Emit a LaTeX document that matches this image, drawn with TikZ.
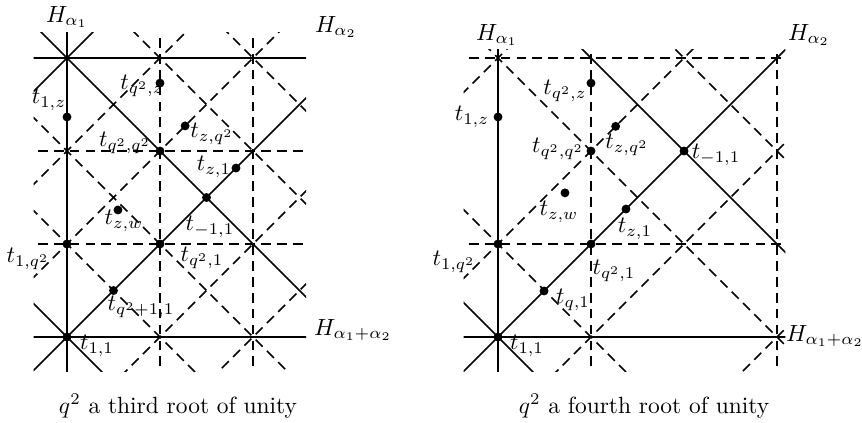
\documentclass[tikz,border=0pt]{standalone}
\begin{document}
\begin{tikzpicture}[x=0.015cm, y=-0.015cm,
  hyp/.style={line width=0.7pt},
  dhyp/.style={line width=0.7pt, dash pattern=on 4.2pt off 2.6pt},
  dot/.style={circle, fill, inner sep=0pt, minimum size=3.8pt},
  lab/.style={inner sep=0pt, anchor=center}]
\useasboundingbox (0,0) rectangle (862,422);

% ---------------- left diagram ----------------
\begin{scope}[shift={(67,337)}, x=1.395cm, y=1.395cm]
  \begin{scope}
    \clip (-0.36,-0.37) rectangle (2.57,3.27);
    % dashed hyperplanes
    \foreach \a in {1,2} \draw[dhyp] (\a,-1) -- (\a,4);
    \foreach \b in {1,2} \draw[dhyp] (-1,\b) -- (4,\b);
    \foreach \c in {-2,-1,1,2} \draw[dhyp] (-1,{-1+\c}) -- (4,{4+\c});
    \foreach \d in {1,2,4,5} \draw[dhyp] (-1,{\d+1}) -- (4,{\d-4});
    % solid hyperplanes
    \draw[hyp] (0,-1) -- (0,4);
    \draw[hyp] (-1,0) -- (4,0);
    \draw[hyp] (-1,3) -- (4,3);
    \draw[hyp] (-1,-1) -- (4,4);
    \draw[hyp] (-1,2) -- (4,7);
    \draw[hyp] (-1,1) -- (4,-4);
    \draw[hyp] (-1,4) -- (4,-1);
  \end{scope}
  \node[dot] (L1z) at (0,2.366) {};
  \node[dot] (Lqz) at (1,2.73) {};
  \node[dot] (Lzq) at (1.27,2.27) {};
  \node[dot] (Lqq) at (1,2) {};
  \node[dot] (Lz1) at (1.817,1.817) {};
  \node[dot] (Lzw) at (0.548,1.366) {};
  \node[dot] (Lm1) at (1.5,1.5) {};
  \node[dot] (L1q) at (0,1) {};
  \node[dot] (Lq1) at (1,1) {};
  \node[dot] (Lqp) at (0.5,0.5) {};
  \node[dot] (L11) at (0,0) {};
\end{scope}
\node[lab] (LHa1) at (67,17) {$H_{\alpha_1}$};
\node[lab] (LHa2) at (336,27) {$H_{\alpha_2}$};
\node[lab] (LHa12) at (353,330) {$H_{\alpha_1+\alpha_2}$};
\node[lab] (lL1z) at (49,100) {$t_{1,z}$};
\node[lab] (lLqz) at (142,86) {$t_{q^2,z}$};
\node[lab] (lLqq) at (125,143) {$t_{q^2,q^2}$};
\node[lab] (lLzq) at (212,134) {$t_{z,q^2}$};
\node[lab] (lLz1) at (214,167) {$t_{z,1}$};
\node[lab] (lLzw) at (124,221) {$t_{z,w}$};
\node[lab] (lLm1) at (210,227) {$t_{-1,1}$};
\node[lab] (lL1q) at (28,259) {$t_{1,q^2}$};
\node[lab] (lLq1) at (202,258) {$t_{q^2,1}$};
\node[lab] (lLqp) at (141,307) {$t_{q^2+1,1}$};
\node[lab] (lL11) at (97,346) {$t_{1,1}$};
\node[lab] (Lcap) at (178,406) {$q^2$ a third root of unity};

% ---------------- right diagram ----------------
\begin{scope}[shift={(498,337)}, x=1.395cm, y=1.395cm]
  \begin{scope}
    \clip (-0.37,-0.37) rectangle (3.09,3.09);
    \foreach \a in {1,3} \draw[dhyp] (\a,-1) -- (\a,4);
    \foreach \b in {1,3} \draw[dhyp] (-1,\b) -- (4,\b);
    \foreach \c in {-3,-1,1,3} \draw[dhyp] (-1,{-1+\c}) -- (5,{5+\c});
    \foreach \d in {1,3,5} \draw[dhyp] (-1,{\d+1}) -- (5,{\d-5});
    \draw[hyp] (0,-1) -- (0,4);
    \draw[hyp] (-1,0) -- (4,0);
    \draw[hyp] (-1,-1) -- (4,4);
    \draw[hyp] (-1,1) -- (4,-4);
    \draw[hyp] (-1,5) -- (5,-1);
  \end{scope}
  \node[dot] (R1z) at (0,2.366) {};
  \node[dot] (Rqz) at (1,2.73) {};
  \node[dot] (Rqq) at (1,2) {};
  \node[dot] (Rzq) at (1.265,2.265) {};
  \node[dot] (Rm1) at (2,2) {};
  \node[dot] (Rzw) at (0.72,1.55) {};
  \node[dot] (Rz1) at (1.376,1.376) {};
  \node[dot] (R1q) at (0,1) {};
  \node[dot] (Rq1) at (1,1) {};
  \node[dot] (Rqh) at (0.495,0.495) {};
  \node[dot] (R11) at (0,0) {};
\end{scope}
\node[lab] (RHa1) at (497,35) {$H_{\alpha_1}$};
\node[lab] (RHa2) at (809,35) {$H_{\alpha_2}$};
\node[lab] (RHa12) at (825,336) {$H_{\alpha_1+\alpha_2}$};
\node[lab] (lR1z) at (472,117) {$t_{1,z}$};
\node[lab] (lRqz) at (565,91) {$t_{q^2,z}$};
\node[lab] (lRqq) at (558,149) {$t_{q^2,q^2}$};
\node[lab] (lRzq) at (627,145) {$t_{z,q^2}$};
\node[lab] (lRm1) at (716,155) {$t_{-1,1}$};
\node[lab] (lRzw) at (559,212) {$t_{z,w}$};
\node[lab] (lRz1) at (635,229) {$t_{z,1}$};
\node[lab] (lR1q) at (454,262) {$t_{1,q^2}$};
\node[lab] (lRq1) at (614,271) {$t_{q^2,1}$};
\node[lab] (lRqh) at (573,300) {$t_{q,1}$};
\node[lab] (lR11) at (527,346) {$t_{1,1}$};
\node[lab] (Rcap) at (644,406) {$q^2$ a fourth root of unity};
\end{tikzpicture}
\end{document}
